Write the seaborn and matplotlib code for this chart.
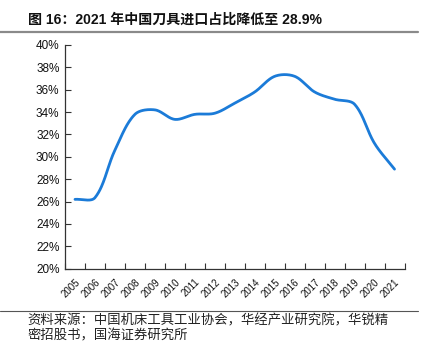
import numpy as np
import pandas as pd
import matplotlib
matplotlib.use("Agg")
import matplotlib.pyplot as plt
from matplotlib.lines import Line2D
import seaborn as sns

# Share of imports in China's cutting-tool market (%)
years = ["2005", "2006", "2007", "2008", "2009", "2010", "2011", "2012", "2013",
         "2014", "2015", "2016", "2017", "2018", "2019", "2020", "2021"]
share = [26.2, 26.35, 30.6, 33.8, 34.2, 33.35, 33.8, 33.9, 34.8,
         35.8, 37.2, 37.2, 35.8, 35.15, 34.7, 31.2, 28.9]
y_ticks = [20, 22, 24, 26, 28, 30, 32, 34, 36, 38, 40]

title = "图 16：2021 年中国刀具进口占比降低至 28.9%"
source = "资料来源：中国机床工具工业协会，华经产业研究院，华锐精\n密招股书，国海证券研究所"

sns.set_theme(style="ticks")
plt.rcParams["font.family"] = ["Liberation Sans", "Noto Sans CJK SC", "DejaVu Sans"]

# plot-box geometry in pixels, used for the screen-space smoothing
X_PX, Y_PX = 404.5 - 65, 268.7 - 45


def smooth_curve(xs, ys, xspan, yspan, steps=30):
    """Smoothed line in the spirit of a spreadsheet 'smoothed line':
    cubic Bezier segments whose control arms follow the neighbour chord
    and scale with segment length on screen."""
    sxp = np.asarray(xs, float) * X_PX / xspan
    syp = np.asarray(ys, float) * Y_PX / yspan
    pts = np.column_stack([sxp, syp])
    n = len(pts)
    out = []
    t = np.linspace(0, 1, steps, endpoint=False)[:, None]
    for i in range(n - 1):
        p0, p3 = pts[i], pts[i + 1]
        prev = pts[i - 1] if i > 0 else pts[i]
        nxt = pts[i + 2] if i + 2 < n else pts[i + 1]
        seg = np.linalg.norm(p3 - p0)
        t0 = p3 - prev
        d0 = seg + (np.linalg.norm(p0 - prev) if i > 0 else 0)
        t1 = nxt - p0
        d1 = seg + (np.linalg.norm(nxt - p3) if i + 2 < n else 0)
        c1 = p0 + t0 * (seg / d0) / 3
        c2 = p3 - t1 * (seg / d1) / 3
        b = (1 - t) ** 3 * p0 + 3 * (1 - t) ** 2 * t * c1 + 3 * (1 - t) * t ** 2 * c2 + t ** 3 * p3
        out.append(b)
    out.append(pts[-1][None, :])
    out = np.vstack(out)
    return out[:, 0] * xspan / X_PX, out[:, 1] * yspan / Y_PX


pos = np.arange(len(years))
sx, sy = smooth_curve(pos, share, len(years), 20)
curve = pd.DataFrame({"x": sx, "y": sy})

fig = plt.figure(figsize=(4.29, 3.44), dpi=100)
ax = fig.add_axes([65 / 429, 1 - 268.7 / 344, X_PX / 429, Y_PX / 344])

sns.lineplot(data=curve, x="x", y="y", sort=False, ax=ax,
             color="#1B7BD8", linewidth=2.0, solid_capstyle="round")

ax.set_xlim(-0.5, len(years) - 0.5)
ax.set_ylim(20, 40)
ax.set_yticks(y_ticks)
ax.set_yticklabels([f"{v}%" for v in y_ticks], fontsize=8.5, color="#111111")
ax.set_xticks(pos)
ax.set_xticklabels(years, rotation=45, ha="right", rotation_mode="anchor",
                   fontsize=7, color="#111111")
ax.set_xticks(np.arange(len(years) + 1) - 0.5, minor=True)
ax.tick_params(axis="x", which="major", length=0, pad=6)
ax.tick_params(axis="x", which="minor", direction="in", length=4, width=0.8, color="#333333")
ax.tick_params(axis="y", which="major", direction="in", length=4, width=0.8,
               color="#333333", pad=4)
ax.set_xlabel("")
ax.set_ylabel("")
for side in ("top", "right"):
    ax.spines[side].set_visible(False)
for side in ("left", "bottom"):
    ax.spines[side].set_color("#333333")
    ax.spines[side].set_linewidth(0.9)

fig.text(28 / 429, 1 - 20 / 344, title, fontsize=10.1, fontweight="bold",
         ha="left", va="center", color="#111111",
         family=["Liberation Sans", "Noto Sans CJK SC"])
fig.add_artist(Line2D([0, 418 / 429], [1 - 31.5 / 344] * 2, color="#8a8a8a",
                      linewidth=1.6, transform=fig.transFigure))
fig.add_artist(Line2D([0, 418 / 429], [1 - 310.5 / 344] * 2, color="#555555",
                      linewidth=0.8, transform=fig.transFigure))
fig.text(27 / 429, 1 - 313.5 / 344, source, fontsize=9.6, ha="left", va="top",
         color="#222222", linespacing=1.12, family=["Noto Sans CJK SC", "DejaVu Sans"])

fig.savefig("out.png", dpi=100)
